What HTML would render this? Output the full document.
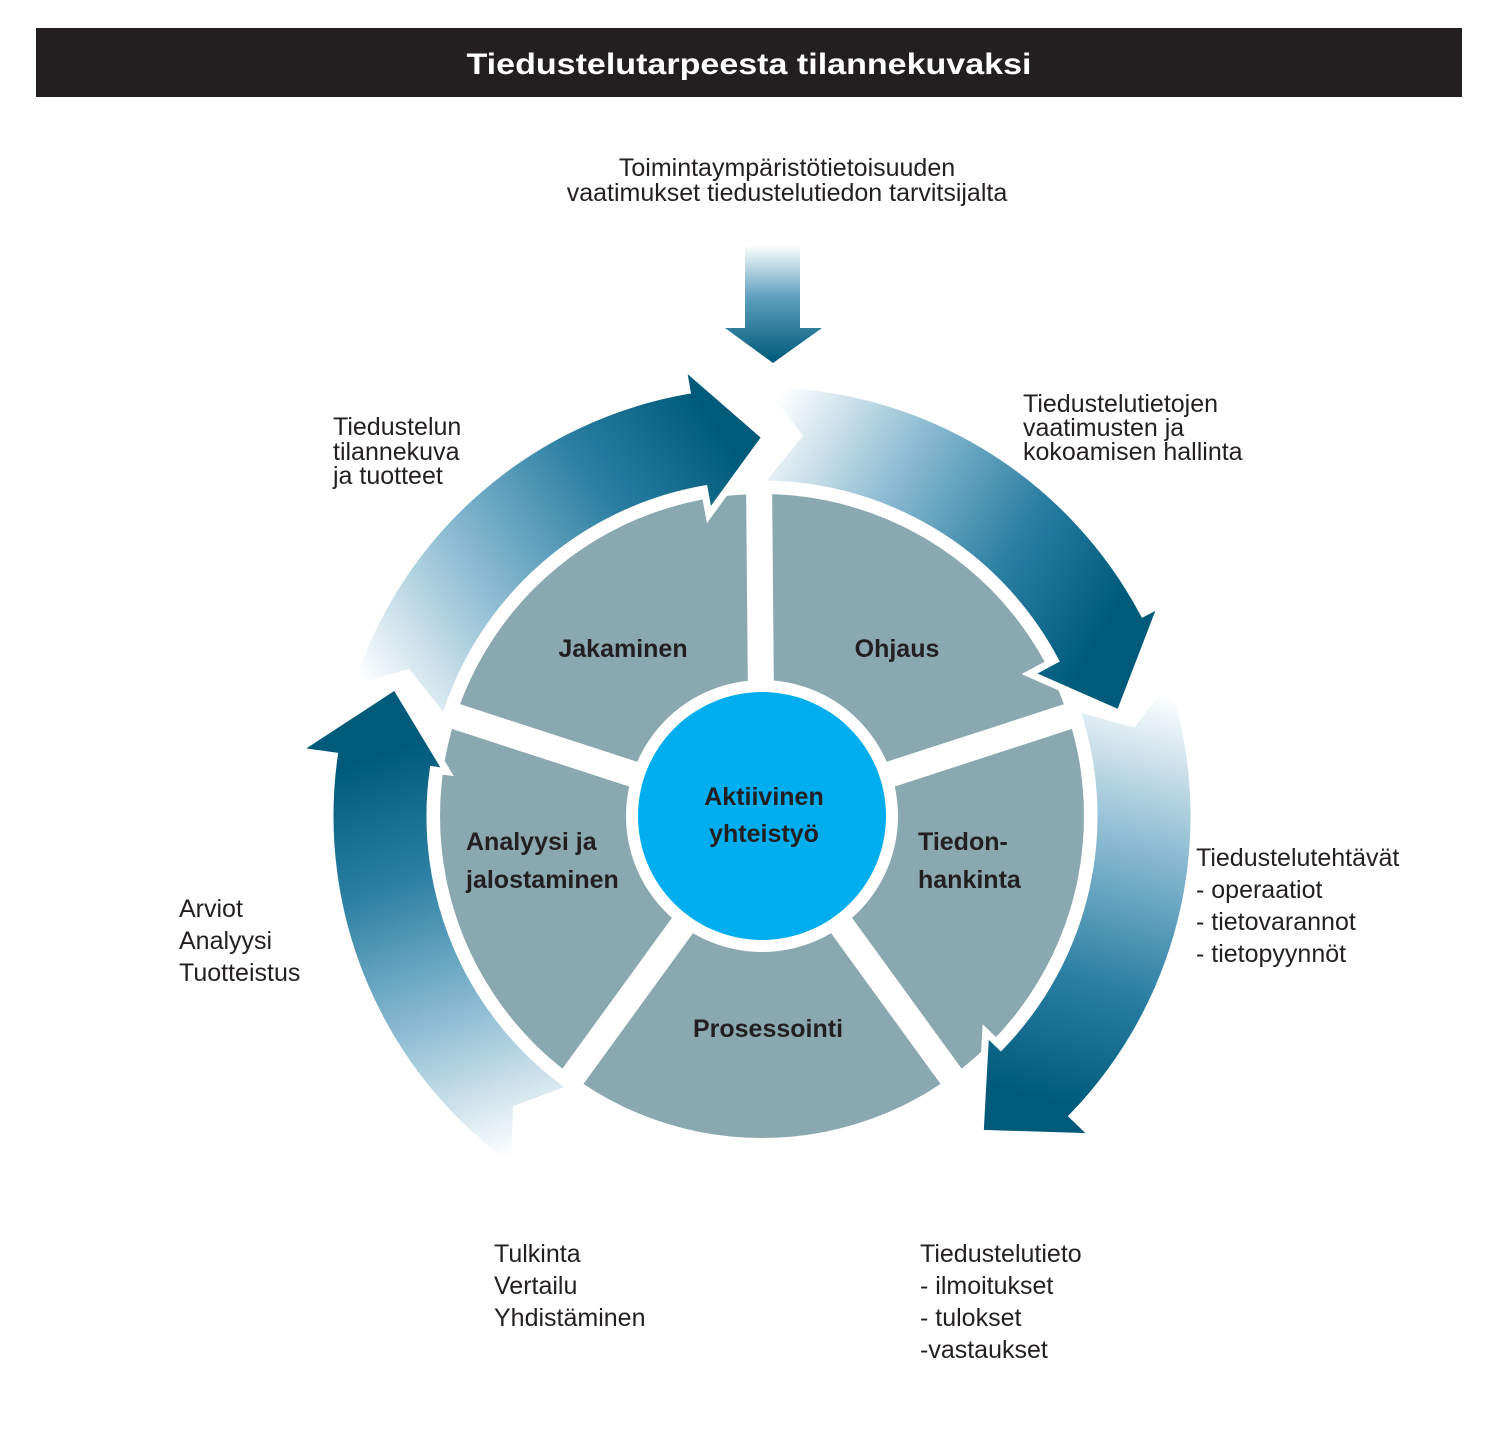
<!DOCTYPE html>
<html><head><meta charset="utf-8"><style>
html,body{margin:0;padding:0;background:#fff;}
svg{display:block;}
text{font-family:"Liberation Sans",sans-serif;fill:#231f20;}
.b{font-weight:bold;}
</style></head><body>
<svg id="s" width="1500" height="1431" viewBox="0 0 1500 1431" xmlns="http://www.w3.org/2000/svg">
<defs>
<linearGradient id="gt" x1="0" y1="245" x2="0" y2="362" gradientUnits="userSpaceOnUse">
<stop offset="0" stop-color="#fff"/><stop offset="0.45" stop-color="#5d9fbe"/><stop offset="1" stop-color="#005a7a"/></linearGradient>
<linearGradient id="g1" x1="765" y1="420" x2="1110" y2="620" gradientUnits="userSpaceOnUse">
<stop offset="0" stop-color="#fff"/><stop offset="0.35" stop-color="#8fbdd3"/><stop offset="0.7" stop-color="#2a7fa3"/><stop offset="1" stop-color="#005a7a"/></linearGradient>
<linearGradient id="g2" x1="1150" y1="690" x2="1040" y2="1100" gradientUnits="userSpaceOnUse">
<stop offset="0" stop-color="#fff"/><stop offset="0.35" stop-color="#8fbdd3"/><stop offset="0.7" stop-color="#2a7fa3"/><stop offset="1" stop-color="#005a7a"/></linearGradient>
<linearGradient id="g3" x1="500" y1="1160" x2="360" y2="760" gradientUnits="userSpaceOnUse">
<stop offset="0" stop-color="#fff"/><stop offset="0.35" stop-color="#8fbdd3"/><stop offset="0.7" stop-color="#2a7fa3"/><stop offset="1" stop-color="#005a7a"/></linearGradient>
<linearGradient id="g4" x1="360" y1="680" x2="720" y2="430" gradientUnits="userSpaceOnUse">
<stop offset="0" stop-color="#fff"/><stop offset="0.35" stop-color="#8fbdd3"/><stop offset="0.7" stop-color="#2a7fa3"/><stop offset="1" stop-color="#005a7a"/></linearGradient>
</defs>
<rect x="36" y="28" width="1426" height="69" fill="#231f20"/>
<text x="749" y="74" text-anchor="middle" class="b" font-size="30" style="fill:#fff" textLength="565" lengthAdjust="spacingAndGlyphs">Tiedustelutarpeesta tilannekuvaksi</text>

<circle cx="762" cy="816" r="322" fill="#8aa8af"/>
<g id="gaps" stroke="#fff" stroke-width="26"></g>
<circle cx="762" cy="816" r="136" fill="#fff"/>
<circle cx="762" cy="816" r="124" fill="#00aeef"/>
<g id="arrows"></g>
<path d="M745 245 H800 V328 H822 L773 363 L725 328 H745 Z" fill="url(#gt)"/>

<g font-size="25">
<text x="787" y="176" text-anchor="middle">Toimintaympäristötietoisuuden</text>
<text x="787" y="201" text-anchor="middle">vaatimukset  tiedustelutiedon tarvitsijalta</text>
<text x="1023" y="412">Tiedustelutietojen</text>
<text x="1023" y="436">vaatimusten ja</text>
<text x="1023" y="460">kokoamisen hallinta</text>
<text x="333" y="435">Tiedustelun</text>
<text x="333" y="460">tilannekuva</text>
<text x="333" y="484">ja tuotteet</text>
<text x="1196" y="866">Tiedustelutehtävät</text>
<text x="1196" y="898">- operaatiot</text>
<text x="1196" y="930">- tietovarannot</text>
<text x="1196" y="962">- tietopyynnöt</text>
<text x="179" y="917">Arviot</text>
<text x="179" y="949">Analyysi</text>
<text x="179" y="981">Tuotteistus</text>
<text x="494" y="1262">Tulkinta</text>
<text x="494" y="1294">Vertailu</text>
<text x="494" y="1326">Yhdistäminen</text>
<text x="920" y="1262">Tiedustelutieto</text>
<text x="920" y="1294">- ilmoitukset</text>
<text x="920" y="1326">- tulokset</text>
<text x="920" y="1358">-vastaukset</text>
</g>
<g font-size="25" class="b">
<text x="623" y="657" text-anchor="middle" class="b">Jakaminen</text>
<text x="897" y="657" text-anchor="middle" class="b">Ohjaus</text>
<text x="466" y="850" class="b">Analyysi ja</text>
<text x="466" y="888" class="b">jalostaminen</text>
<text x="918" y="850" class="b">Tiedon-</text>
<text x="918" y="888" class="b">hankinta</text>
<text x="768" y="1037" text-anchor="middle" class="b">Prosessointi</text>
<text x="764" y="805" text-anchor="middle" class="b">Aktiivinen</text>
<text x="764" y="842" text-anchor="middle" class="b">yhteistyö</text>
</g>
</svg>
<script>
(function(){
var NS="http://www.w3.org/2000/svg",cx=762,cy=816;
function P(a,r){var t=a*Math.PI/180;return [(cx+r*Math.cos(t)).toFixed(1),(cy+r*Math.sin(t)).toFixed(1)];}
var g=document.getElementById('gaps');
[-90.5,-18,54,126,198].forEach(function(a){var l=document.createElementNS(NS,'line');var p=P(a,350);l.setAttribute('x1',cx);l.setAttribute('y1',cy);l.setAttribute('x2',p[0]);l.setAttribute('y2',p[1]);g.appendChild(l);});
var r1=332,r2=432,rm=382;
function arrow(tail,base,tip,wi,wo,fill,tipR,notch){
 var a=P(tail,r2),b=P(base,r2),c=P(base,wo),d=P(tip,tipR||rm),e=P(base,wi),f=P(base,r1),h=P(tail,r1),n=P(tail+(notch||6),rm);
 var dstr="M"+a+" A"+r2+" "+r2+" 0 0 1 "+b+" L"+c+" L"+d+" L"+e+" L"+f+" A"+r1+" "+r1+" 0 0 0 "+h+" L"+n+" Z";
 var p=document.createElementNS(NS,'path');p.setAttribute('d',dstr.replace(/,/g,' '));p.setAttribute('fill',fill);
 p.setAttribute('stroke','#fff');p.setAttribute('stroke-width','7');p.setAttribute('stroke-linejoin','miter');
 document.getElementById('arrows').appendChild(p);
}
arrow(-90.5,-28,-16,303,453,'url(#g1)',372,6);
arrow(-19,44,55.5,311,462,'url(#g2)',385,5);
arrow(125,188,199.5,318,470,'url(#g3)',389,5);
arrow(197,260,270.5,306,458,'url(#g4)',379,5);
})();
</script>
</body></html>
